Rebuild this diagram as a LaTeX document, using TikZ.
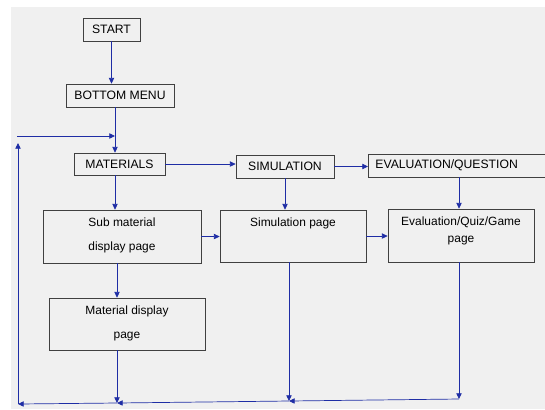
\documentclass[tikz,border=0pt]{standalone}
\usepackage{fontspec}
\setmainfont{Liberation Sans}
\usetikzlibrary{arrows.meta,positioning}
\definecolor{fcblue}{RGB}{30,45,165}
\definecolor{fcgray}{RGB}{64,64,64}
\definecolor{fcback}{RGB}{240,240,240}

\begin{document}
\begin{tikzpicture}[x=0.03cm,y=-0.03cm,
  menubox/.style={draw=fcgray, line width=0.7pt, inner sep=0pt, minimum height=0.69cm, font=\fontsize{10.4}{12}\selectfont},
  pagebox/.style={draw=fcgray, line width=0.7pt, inner sep=0pt},
  pagetext/.style={font=\fontsize{10.2}{12}\selectfont, align=center, inner sep=0pt},
  flow/.style={-{Triangle[length=1.7mm,width=1.6mm]}, fcblue, line width=0.6pt}]
\useasboundingbox (0,0) rectangle (545,409);
% Background
\fill[fcback] (11,7) rectangle (545,409);
% Menu boxes
\node[menubox, minimum width=1.71cm] (start) at (111.5,29.5) {START};
\node[menubox, minimum width=3.24cm] (menu) at (120,95.5) {BOTTOM MENU};
\node[menubox, minimum width=2.73cm, minimum height=0.66cm] (materials) at (119.5,164) {MATERIALS};
\node[menubox, minimum width=2.94cm] (simulation) at (285,166.5) {SIMULATION};
\node[menubox, anchor=west, inner xsep=0.21cm, text width=5.1cm] (evaluation) at (368,165.5) {EVALUATION/QUESTION};
% Page boxes
\node[pagebox, minimum width=4.74cm, minimum height=1.59cm] (subpage) at (122,236.5) {};
\node[pagebox, minimum width=4.38cm, minimum height=1.56cm] (simpage) at (293,236) {};
\node[pagebox, minimum width=4.38cm, minimum height=1.59cm] (evalpage) at (461,235.5) {};
\node[pagebox, minimum width=4.68cm, minimum height=1.56cm] (matpage) at (127,324) {};
\node[pagetext] (subtext) at (122,235.5) {Sub material\\[9pt]display page};
\node[pagetext] (simtext) at (293,223) {Simulation page};
\node[pagetext] (evaltext) at (461,231) {Evaluation/Quiz/Game\\[3pt]page};
\node[pagetext] (mattext) at (127,323.5) {Material display\\[9pt]page};
% Helper points
\coordinate (c1) at (115,0);
\coordinate (c2) at (117,0);
\coordinate (b1) at (459,399);
\coordinate (b2) at (289,401);
\coordinate (b3) at (117,403);
\coordinate (b4) at (18,404);
\coordinate (t1) at (18,143);
\coordinate (t0) at (17,136);
\coordinate (t2) at (115,136);
% Connectors
\draw[flow] (start.south) -- (start.south |- menu.north);
\draw[flow] (menu.south -| c1) -- (materials.north -| c1);
\draw[flow] (materials.east) -- (materials.east -| simulation.west);
\draw[flow] (simulation.east) -- (simulation.east -| evaluation.west);
\draw[flow] (materials.south -| c1) -- (subpage.north -| c1);
\draw[flow] (simulation.south) -- (simulation.south |- simpage.north);
\draw[flow] (evaluation.south -| b1) -- (evalpage.north -| b1);
\draw[flow] (subpage.east) -- (subpage.east -| simpage.west);
\draw[flow] (simpage.east) -- (simpage.east -| evalpage.west);
\draw[flow] (subpage.south -| c2) -- (matpage.north -| c2);
% Return path
\draw[flow] (matpage.south -| c2) -- (b3);
\draw[flow] (simpage.south -| b2) -- (b2);
\draw[flow] (evalpage.south -| b1) -- (b1);
\draw[flow] (b1) -- (b2);
\draw[flow] (b2) -- (b3);
\draw[flow] (b3) -- (b4);
\draw[flow] (b4) -- (t1);
\draw[flow] (t0) -- (t2);
\end{tikzpicture}
\end{document}
